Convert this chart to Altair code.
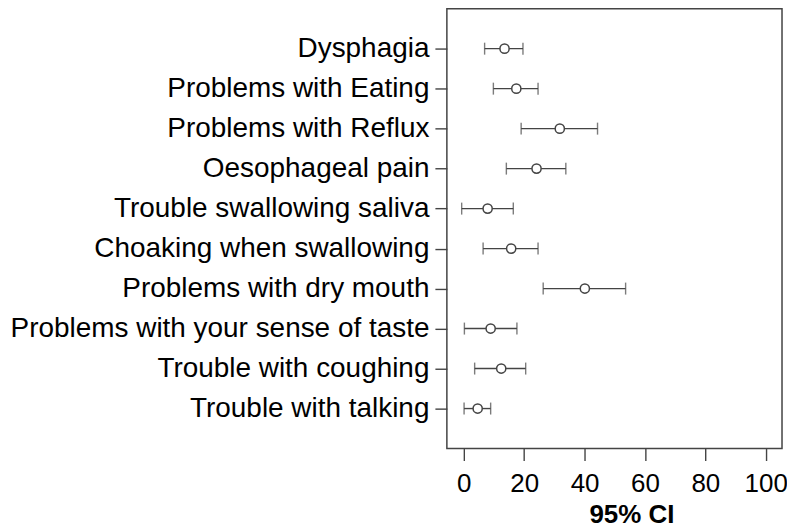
import altair as alt
import pandas as pd

symptoms = [
    "Dysphagia",
    "Problems with Eating",
    "Problems with Reflux",
    "Oesophageal pain",
    "Trouble swallowing saliva",
    "Choaking when swallowing",
    "Problems with dry mouth",
    "Problems with your sense of taste",
    "Trouble with coughing",
    "Trouble with talking",
]
estimate = [13.5, 17.4, 31.8, 24.1, 7.9, 15.7, 40.1, 8.9, 12.4, 4.6]
lower = [6.9, 9.8, 19.0, 14.1, -0.7, 6.4, 26.3, 0.2, 3.6, 0.1]
upper = [19.6, 24.6, 44.3, 33.8, 16.4, 24.6, 53.6, 17.6, 20.5, 8.9]
x_ticks = [0, 20, 40, 60, 80, 100]

df = pd.DataFrame({"symptom": symptoms, "est": estimate, "lo": lower, "hi": upper})

FONT = "Liberation Sans"
GRAY = "#444444"

y_enc = alt.Y(
    "symptom:N",
    sort=symptoms,
    scale=alt.Scale(type="point", padding=1.05),
    axis=alt.Axis(
        title=None,
        labelFont=FONT,
        labelFontSize=28,
        labelColor="black",
        labelPadding=6,
        labelLimit=0,
        tickSize=12,
        tickColor=GRAY,
        tickWidth=1.4,
        domain=False,
        grid=False,
    ),
)
x_scale = alt.Scale(domain=[-5.6, 105.4], nice=False, zero=False)
x_axis = alt.Axis(
    title="95% CI",
    values=x_ticks,
    labelFont=FONT,
    labelFontSize=26,
    labelColor="black",
    labelPadding=10,
    labelFlush=False,
    labelOverlap=False,
    tickSize=12,
    tickColor=GRAY,
    tickWidth=1.4,
    domain=False,
    grid=False,
    titleFont=FONT,
    titleFontSize=26,
    titleFontWeight="bold",
    titleColor="black",
    titlePadding=5,
    titleX=185,
    titleAlign="center",
)

base = alt.Chart(df)

rule = base.mark_rule(color=GRAY, strokeWidth=1.4).encode(
    x=alt.X("lo:Q", scale=x_scale, axis=x_axis),
    x2="hi:Q",
    y=y_enc,
)
cap_lo = base.mark_tick(orient="vertical", size=12, thickness=1.4, color=GRAY).encode(
    x=alt.X("lo:Q", scale=x_scale), y=alt.Y("symptom:N", sort=symptoms)
)
cap_hi = base.mark_tick(orient="vertical", size=12, thickness=1.4, color=GRAY).encode(
    x=alt.X("hi:Q", scale=x_scale), y=alt.Y("symptom:N", sort=symptoms)
)
pts = base.mark_point(filled=True, fill="white", stroke=GRAY, strokeWidth=1.5, size=85, opacity=1).encode(
    x=alt.X("est:Q", scale=x_scale), y=alt.Y("symptom:N", sort=symptoms)
)

chart = (
    alt.layer(rule, cap_lo, cap_hi, pts)
    .properties(
        width=336,
        height=441,
        autosize=alt.AutoSizeParams(type="none"),
        padding={"left": 440, "top": 0, "right": 5, "bottom": 80},
    )
    .configure(
        background="white",
        view=alt.ViewConfig(stroke=GRAY, strokeWidth=1.5),
    )
)

chart.save("out.html", embed_options={"renderer": "svg", "actions": False})
